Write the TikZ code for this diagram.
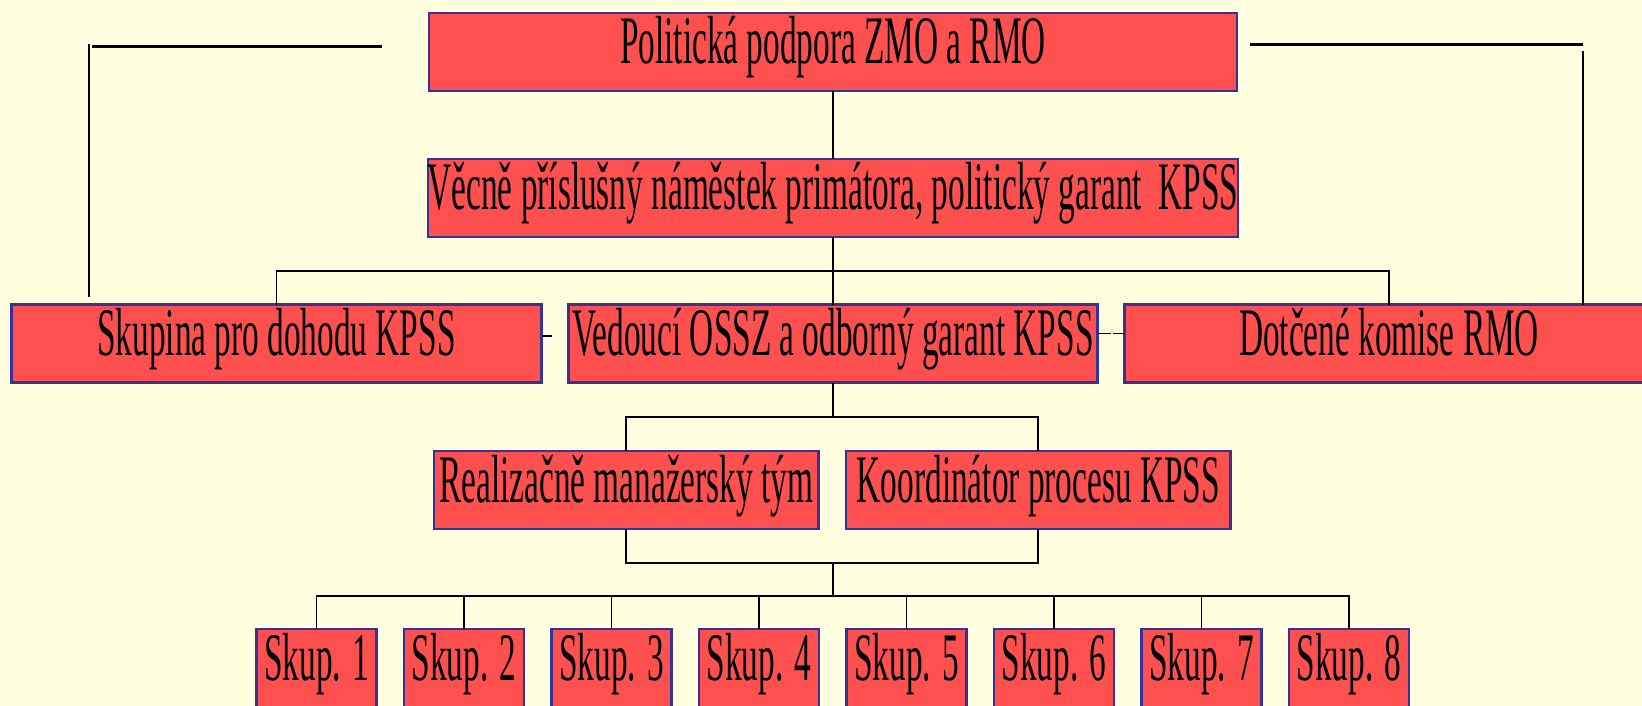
\documentclass[tikz,border=0pt]{standalone}
\usepackage{fontspec}
\newfontfamily\orgfont[FakeStretch=0.49]{Liberation Serif}
\usetikzlibrary{positioning}
\definecolor{orgbg}{HTML}{FFFFE0}
\definecolor{orgred}{HTML}{FF5050}
\definecolor{orgblue}{HTML}{333399}

\begin{document}
\begin{tikzpicture}[x=1pt, y=-1pt,
    box/.style={draw=orgblue, line width=2.2pt, fill=orgred, inner sep=0pt, outer sep=0pt,
      text height=51pt, text depth=27pt, font=\orgfont\fontsize{68}{70}\selectfont},
    link/.style={line width=1.8pt},
    brace/.style={line width=3pt}]
    \fill [orgbg] (0,0) rectangle (1642,706);
    \useasboundingbox (0,0) rectangle (1642,706);

    % Nodes
    \node (politika) [box, minimum width=808pt] at (833,52) {Politická podpora ZMO a RMO};
    \node (namestek) [box, minimum width=808pt, below=68pt of politika] {Věcně příslušný náměstek primátora, politický garant\ \ KPSS};
    \node (skupina) [box, minimum width=530pt] at (276.5,343.5) {Skupina pro dohodu KPSS};
    \node (vedouci) [box, minimum width=529pt, right=27pt of skupina] {Vedoucí OSSZ a odborný garant KPSS};
    \node (komise) [box, minimum width=529pt, right=27pt of vedouci] {Dotčené komise RMO};
    \node (realizace) [box, minimum width=384.5pt] at (626.3,490) {Realizačně manažerský tým};
    \node (koordinator) [box, minimum width=384.5pt, right=27.5pt of realizace] {Koordinátor procesu KPSS};
    \node (skup1) [box, minimum width=120pt] at (316.5,668) {Skup. 1};
    \node (skup2) [box, minimum width=120pt, right=27.5pt of skup1] {Skup. 2};
    \node (skup3) [box, minimum width=120pt, right=27.5pt of skup2] {Skup. 3};
    \node (skup4) [box, minimum width=120pt, right=27.5pt of skup3] {Skup. 4};
    \node (skup5) [box, minimum width=120pt, right=27.5pt of skup4] {Skup. 5};
    \node (skup6) [box, minimum width=120pt, right=27.5pt of skup5] {Skup. 6};
    \node (skup7) [box, minimum width=120pt, right=27.5pt of skup6] {Skup. 7};
    \node (skup8) [box, minimum width=120pt, right=27.5pt of skup7] {Skup. 8};

    \coordinate (busTop) at (833,271);
    \coordinate (busMid) at (833,416.7);
    \coordinate (busLow) at (833,562.7);
    \coordinate (busSkup) at (833,596);
    \coordinate (leftTop) at (89,44);
    \coordinate (leftEnd) at (89,297);
    \coordinate (leftBar) at (91.5,47);
    \coordinate (leftBarEnd) at (382,47);
    \coordinate (rightBar) at (1250,44.3);
    \coordinate (rightBarEnd) at (1583,44.3);
    \coordinate (rightTop) at (1583,50.7);

    % Lines
    \draw [link] (politika) -- (namestek);
    \draw [link] (namestek) -- (vedouci);
    \draw [link] (skupina.north) |- (busTop) -| (komise.north);
    \draw [link, dash pattern=on 10.5pt off 20pt] ([yshift=7.5pt]skupina.east) -- ([yshift=7.5pt]vedouci.west);
    \draw [link, dash pattern=on 13pt off 2.5pt] ([yshift=10pt]vedouci.east) -- ([yshift=10pt]komise.west);

    \draw [link] (vedouci) -- (busMid);
    \draw [link] (realizace.north) |- (busMid) -| (koordinator.north);
    \draw [link] (realizace.south) |- (busLow) -| (koordinator.south);
    \draw [link] (busLow) -- (busSkup);

    \draw [link] (skup1.north) |- (busSkup) -| (skup8.north);
    \draw [link] (skup2.north) -- (skup2.north |- busSkup);
    \draw [link] (skup3.north) -- (skup3.north |- busSkup);
    \draw [link] (skup4.north) -- (skup4.north |- busSkup);
    \draw [link] (skup5.north) -- (skup5.north |- busSkup);
    \draw [link] (skup6.north) -- (skup6.north |- busSkup);
    \draw [link] (skup7.north) -- (skup7.north |- busSkup);

    \draw [link] (leftTop) -- (leftEnd);
    \draw [brace] (leftBar) -- (leftBarEnd);
    \draw [brace] (rightBar) -- (rightBarEnd);
    \draw [link] (rightTop) -- (rightTop |- komise.north);
\end{tikzpicture}
\end{document}
